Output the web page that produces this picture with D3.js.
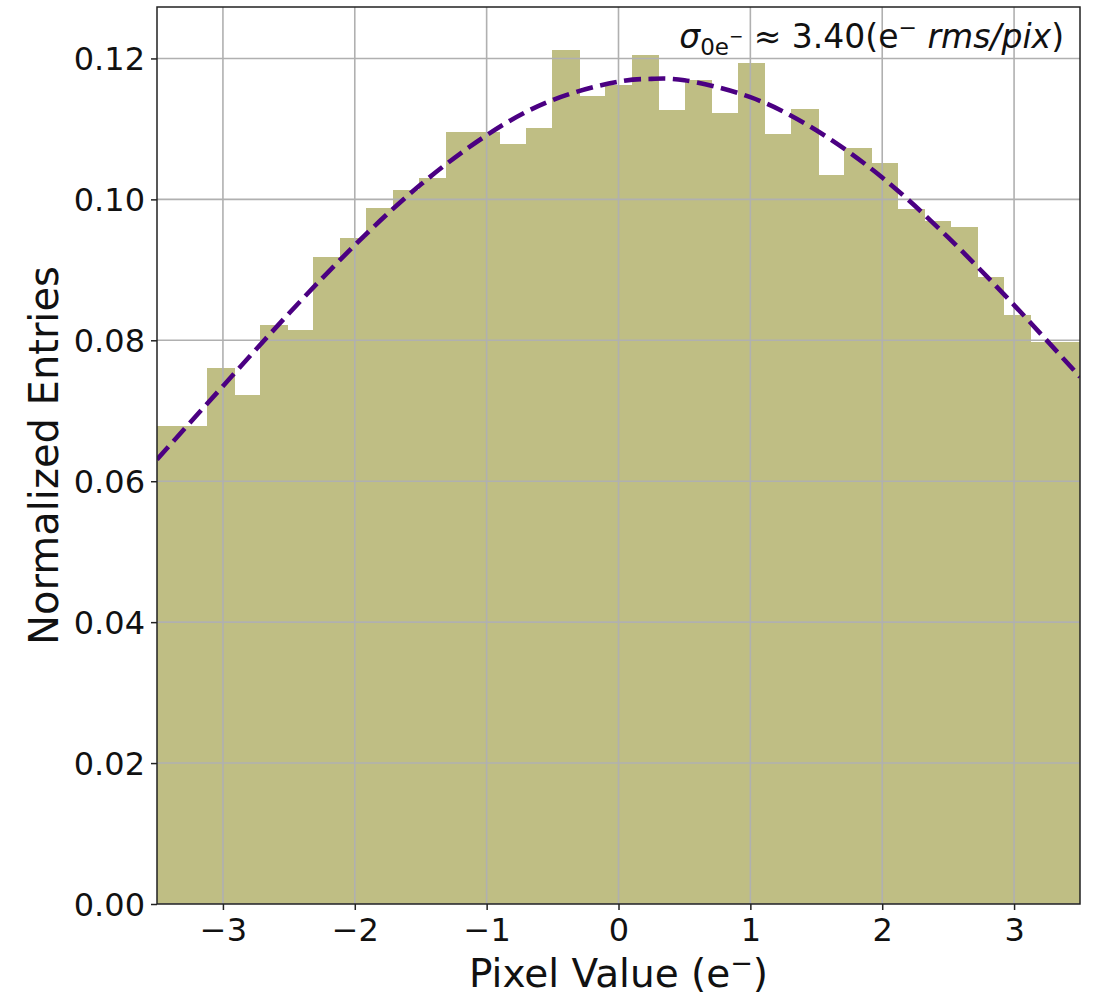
<!DOCTYPE html>
<html>
<head>
<meta charset="utf-8">
<script src="https://cdn.jsdelivr.net/npm/d3@7"></script>
<style>
  html, body { margin: 0; padding: 0; background: #fff; }
  svg { display: block; font-family: "DejaVu Sans", sans-serif; }
</style>
</head>
<body>
<svg id="chart" width="1094" height="999"></svg>
<script>
// ---- data ----
const binEdges = [-3.5232, -3.3219, -3.1206, -2.9193, -2.7180, -2.5167, -2.3154, -2.1141, -1.9128,
  -1.7115, -1.5102, -1.3089, -1.1076, -0.9063, -0.7050, -0.5037, -0.3024, -0.1011, 0.1002,
  0.3015, 0.5028, 0.7041, 0.9054, 1.1067, 1.3080, 1.5093, 1.7106, 1.9119, 2.1132, 2.3145,
  2.5158, 2.7171, 2.9184, 3.1197, 3.3210, 3.5223];
const binHeights = [0.0678, 0.0678, 0.0760, 0.0722, 0.0822, 0.0814, 0.0918, 0.0945, 0.0988,
  0.1014, 0.1031, 0.1095, 0.1096, 0.1079, 0.1101, 0.1212, 0.1147, 0.1163, 0.1205, 0.1127,
  0.1169, 0.1123, 0.1193, 0.1093, 0.1128, 0.1035, 0.1073, 0.1052, 0.0986, 0.0970, 0.0961,
  0.0890, 0.0836, 0.0798, 0.0798];
const fitX = [-3.5, -3.0, -2.5, -2.0, -1.5, -1.0, -0.5, 0.0, 0.25, 0.5, 1.0, 1.5, 2.0, 2.5, 3.0, 3.5];
const fitY = [0.0631, 0.0735, 0.0838, 0.0935, 0.1021, 0.1091, 0.1141, 0.1167, 0.1171, 0.1169,
  0.1145, 0.1098, 0.1031, 0.0946, 0.0850, 0.0748];
const xTicks = [-3, -2, -1, 0, 1, 2, 3];
const yTicks = [0.00, 0.02, 0.04, 0.06, 0.08, 0.10, 0.12];
const xDomain = [-3.5, 3.5];
const yDomain = [0, 0.1273];

// ---- layout ----
const pL = 157, pR = 1080, pT = 7, pB = 904;
const svg = d3.select("#chart");
const x = d3.scaleLinear().domain(xDomain).range([pL, pR]);
const y = d3.scaleLinear().domain(yDomain).range([pB, pT]);

svg.append("defs").append("clipPath").attr("id", "plotclip")
  .append("rect").attr("x", pL).attr("y", pT).attr("width", pR - pL).attr("height", pB - pT);

const plot = svg.append("g").attr("clip-path", "url(#plotclip)");

// bars
const bins = binHeights.map((h, i) => ({ x0: binEdges[i], x1: binEdges[i + 1], h }));
plot.selectAll("rect.bar").data(bins).enter().append("rect")
  .attr("class", "bar")
  .attr("x", d => x(d.x0))
  .attr("width", d => x(d.x1) - x(d.x0) + 1)
  .attr("y", d => y(d.h))
  .attr("height", d => y(0) - y(d.h))
  .attr("shape-rendering", "crispEdges")
  .attr("fill", "#bfbe84");

// grid (drawn over bars)
plot.selectAll("line.gx").data(xTicks).enter().append("line")
  .attr("x1", d => x(d)).attr("x2", d => x(d)).attr("y1", pT).attr("y2", pB)
  .attr("stroke", "#b0b0b0").attr("stroke-width", 1.6);
plot.selectAll("line.gy").data(yTicks).enter().append("line")
  .attr("y1", d => y(d)).attr("y2", d => y(d)).attr("x1", pL).attr("x2", pR)
  .attr("stroke", "#b0b0b0").attr("stroke-width", 1.6);

// fit curve
const line = d3.line().x((d, i) => x(fitX[i])).y(d => y(d)).curve(d3.curveNatural);
plot.append("path").datum(fitY)
  .attr("d", line)
  .attr("fill", "none")
  .attr("stroke", "#4b0082")
  .attr("stroke-width", 4.6)
  .attr("stroke-dasharray", "17,7.5");

// axes
const xAxis = d3.axisBottom(x).tickValues(xTicks).tickSize(6).tickPadding(7)
  .tickFormat(d => d < 0 ? "\u2212" + Math.abs(d) : String(d));
const gx = svg.append("g").attr("transform", `translate(0,${pB})`).call(xAxis);
gx.select(".domain").remove();
gx.selectAll(".tick line").attr("stroke", "#222").attr("stroke-width", 1.5);
gx.selectAll(".tick text").attr("font-size", 32).attr("fill", "#111")
  .attr("font-family", "DejaVu Sans").attr("dy", "0.76em");

const yAxis = d3.axisLeft(y).tickValues(yTicks).tickSize(6).tickPadding(6)
  .tickFormat(d3.format(".2f"));
const gy = svg.append("g").attr("transform", `translate(${pL},0)`).call(yAxis);
gy.select(".domain").remove();
gy.selectAll(".tick line").attr("stroke", "#222").attr("stroke-width", 1.5);
gy.selectAll(".tick text").attr("font-size", 32).attr("fill", "#111")
  .attr("font-family", "DejaVu Sans").attr("dy", "0.36em");

// frame
svg.append("rect").attr("x", pL).attr("y", pT).attr("width", pR - pL).attr("height", pB - pT)
  .attr("fill", "none").attr("stroke", "#222").attr("stroke-width", 1.5);

// axis labels
const xl = svg.append("text").attr("x", (pL + pR) / 2).attr("y", 987)
  .attr("text-anchor", "middle").attr("font-size", 39).attr("fill", "#111");
xl.append("tspan").text("Pixel Value (e");
xl.append("tspan").attr("font-size", 27).attr("dy", -15).text("\u2212");
xl.append("tspan").attr("dy", 15).text(")");

svg.append("text")
  .attr("transform", `translate(58,${(pT + pB) / 2}) rotate(-90)`)
  .attr("text-anchor", "middle").attr("font-size", 40).attr("fill", "#111")
  .text("Normalized Entries");

// annotation
const ann = svg.append("text").attr("x", 1064).attr("y", 48)
  .attr("text-anchor", "end").attr("font-size", 33).attr("fill", "#111");
ann.append("tspan").attr("font-style", "italic").text("\u03c3");
ann.append("tspan").attr("font-size", 23).attr("dy", 7).text("0e");
ann.append("tspan").attr("font-size", 17).attr("dy", -13).text("\u2212");
ann.append("tspan").attr("dy", 6).text(" \u2248 3.40(e");
ann.append("tspan").attr("font-size", 22).attr("dy", -13).text("\u2212");
ann.append("tspan").attr("dy", 13).attr("font-style", "italic").text(" rms/pix");
ann.append("tspan").text(")");
</script>
</body>
</html>
